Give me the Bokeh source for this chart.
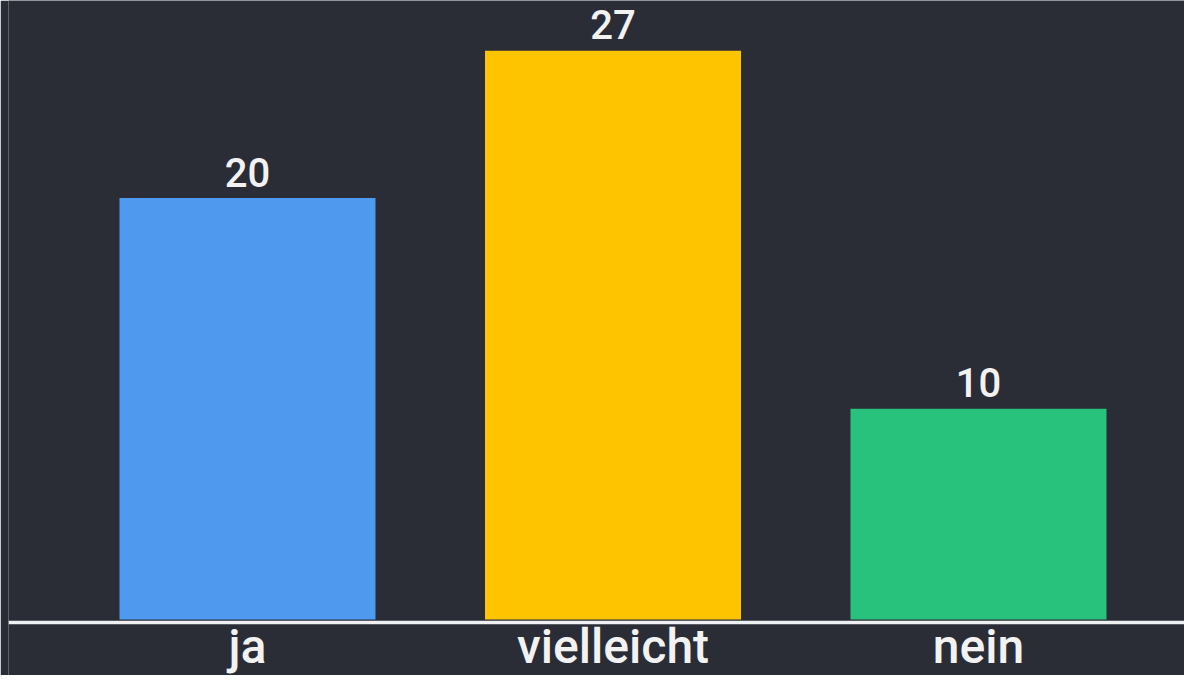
from bokeh.plotting import figure
from bokeh.models import ColumnDataSource, Span, Range1d
from bokeh.core.properties import value
from bokeh.embed import file_html
from bokeh.resources import INLINE

categories = ["ja", "vielleicht", "nein"]
counts = [20, 27, 10]
colors = ["#4f99ef", "#fec400", "#28c27c"]
value_labels = [str(c) for c in counts]

BG = "#2a2d36"
FONT = "'Roboto Medium', Roboto"

Y0, Y1 = -2.658, 29.38
xs = list(range(len(categories)))
src = ColumnDataSource(dict(x=xs, top=counts, color=colors, label=value_labels,
                            label_y=[c + 1.234 for c in counts],
                            cat=categories, base=[-1.28] * len(categories)))

p = figure(width=1184, height=675, output_backend="svg", toolbar_location=None,
           x_range=Range1d(-0.6539, 2.5636), y_range=Range1d(Y0, Y1),
           min_border_left=8, min_border_right=0, min_border_top=0, min_border_bottom=0)
p.background_fill_color = BG
p.border_fill_color = BG
p.outline_line_color = None
p.axis.visible = False
p.grid.visible = False

p.vbar(x="x", top="top", bottom=0, width=0.7004, color="color", line_color=None, source=src)

p.add_layout(Span(location=-0.14, dimension="width", line_color="#eef0f2", line_width=3.5))

p.text(x="x", y="label_y", text="label", source=src, text_align="center",
       text_baseline="alphabetic", text_color="#f2f2f2",
       text_font=value(FONT), text_font_size="40px")

p.text(x="x", y="base", text="cat", source=src, text_align="center",
       text_baseline="alphabetic", text_color="#f2f2f2",
       text_font=value(FONT), text_font_size="48px")

open("out.html", "w").write(file_html(p, INLINE))
